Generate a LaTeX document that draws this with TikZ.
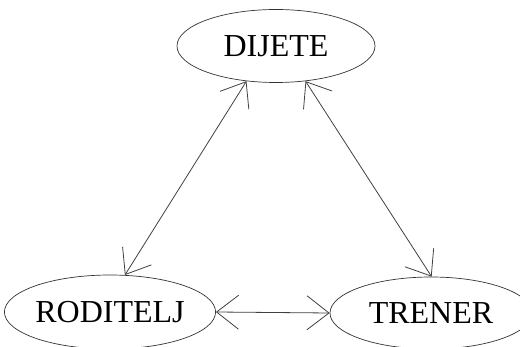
\documentclass[tikz,border=0pt]{standalone}
\usepackage{fontspec}
\setmainfont{Liberation Serif}
\usepackage{tikz}
\usetikzlibrary{arrows.meta,shapes.geometric}
\tikzset{%
	actor/.style = {draw=black!80, ellipse, line width=0.7pt, inner sep=0pt, text centered, font=\fontsize{32}{36}\selectfont},
	link/.style  = {draw=black!75, line width=0.8pt, {Straight Barb[length=22pt,width=34pt]}-{Straight Barb[length=22pt,width=34pt]}},
}
\begin{document}
\begin{tikzpicture}[x=1pt,y=-1pt]
	\useasboundingbox (0,0) rectangle (520,347);
	\node[actor, minimum width=198pt, minimum height=73pt] (dijete) at (276,46) {DIJETE};
	\node[actor, minimum width=195pt, minimum height=74pt] (roditelj) at (110,312) {RODITELJ};
	\node[actor, minimum width=202pt, minimum height=72pt] (trener) at (431,313) {TRENER};
	
	\draw[link] (dijete.230) -- (roditelj.68);  % dijete - roditelj
	\draw[link] (dijete.310) -- (trener.89);    % dijete - trener
	\draw[link] (roditelj.east) -- (trener.west);
\end{tikzpicture}
\end{document}
